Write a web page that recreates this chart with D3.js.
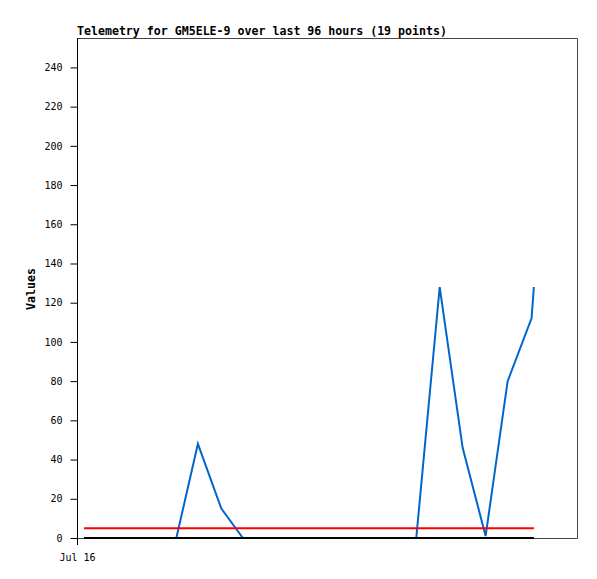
<!DOCTYPE html>
<html>
<head>
<meta charset="utf-8">
<script src="https://cdn.jsdelivr.net/npm/d3@7"></script>
<style>
  html, body { margin: 0; padding: 0; background: #fff; }
  svg { display: block; }
</style>
</head>
<body>
<svg id="chart" width="597" height="579"></svg>
<script>
// ---- data ----
const titleText = "Telemetry for GM5ELE-9 over last 96 hours (19 points)";
const yLabel = "Values";
// hours since first point
const hours = [0, 4.9, 9.8, 14.8, 19.7, 24.3, 29.3, 33.9, 38.9, 43.8, 48.7, 66.0, 70.9, 75.9, 80.8, 85.7, 90.4, 95.5, 96.0];
const seriesBlue  = [0, 0, 0, 0, 0, 48, 15, 0, 0, 0, 0, 0, 0, 128, 46, 1, 80, 112, 128];
const seriesRed   = [5, 5, 5, 5, 5, 5, 5, 5, 5, 5, 5, 5, 5, 5, 5, 5, 5, 5, 5];
const seriesBlack = [0, 0, 0, 0, 0, 0, 0, 0, 0, 0, 0, 0, 0, 0, 0, 0, 0, 0, 0];
const yTicks = [0, 20, 40, 60, 80, 100, 120, 140, 160, 180, 200, 220, 240];
const xTickHours = [-1.5];
const xTickLabels = ["Jul 16"];
const yDomain = [0, 255];
const xDomain = [-1.5, 105.2];

// ---- layout ----
const L = 77, R = 577, T = 38, B = 538;
const svg = d3.select("#chart");
const x = d3.scaleLinear().domain(xDomain).range([L, R]);
const y = d3.scaleLinear().domain(yDomain).range([B, T]);

// frame (top, right, bottom)
svg.append("path")
  .attr("d", `M${L},${T + 0.5}H${R + 0.5}V${B + 0.5}H${L}`)
  .attr("fill", "none").attr("stroke", "#444").attr("stroke-width", 1);

// y axis
const yAxis = d3.axisLeft(y).tickValues(yTicks).tickSize(7).tickPadding(8).tickSizeOuter(0);
const gy = svg.append("g").attr("transform", `translate(${L + 0.5},0)`).call(yAxis);
gy.select(".domain").remove();
gy.selectAll("text").attr("font-family", "'DejaVu Sans Mono', monospace").attr("font-size", "10px").attr("fill", "#000");
gy.selectAll("line").attr("stroke", "#000");
svg.append("line").attr("x1", L + 0.5).attr("x2", L + 0.5).attr("y1", T).attr("y2", B + 7)
  .attr("stroke", "#000").attr("stroke-width", 1);

// x axis (single date label)
const xAxis = d3.axisBottom(x).tickValues(xTickHours).tickFormat((d, i) => xTickLabels[i]).tickSize(0).tickPadding(16);
const gx = svg.append("g").attr("transform", `translate(0,${B})`).call(xAxis);
gx.select(".domain").remove();
gx.selectAll("text").attr("font-family", "'DejaVu Sans Mono', monospace").attr("font-size", "10px").attr("fill", "#000");

// series
const line = d3.line().x((d, i) => x(hours[i])).y(d => y(d));
svg.append("path").datum(seriesBlue).attr("d", line)
  .attr("fill", "none").attr("stroke", "#0066cc").attr("stroke-width", 2);
svg.append("path").datum(seriesRed).attr("d", line)
  .attr("fill", "none").attr("stroke", "#ff0000").attr("stroke-width", 2);
svg.append("path").datum(seriesBlack).attr("d", line)
  .attr("fill", "none").attr("stroke", "#000").attr("stroke-width", 2);

// title
svg.append("text").attr("x", L).attr("y", 35)
  .attr("font-family", "'DejaVu Sans Mono', monospace").attr("font-weight", "bold")
  .attr("font-size", "11.6px").attr("fill", "#000").text(titleText);

// y label
svg.append("text").attr("transform", `translate(35,${(T + B) / 2 + 1}) rotate(-90)`)
  .attr("text-anchor", "middle")
  .attr("font-family", "'DejaVu Sans Mono', monospace").attr("font-weight", "bold")
  .attr("font-size", "11.6px").attr("fill", "#000").text(yLabel);
</script>
</body>
</html>
